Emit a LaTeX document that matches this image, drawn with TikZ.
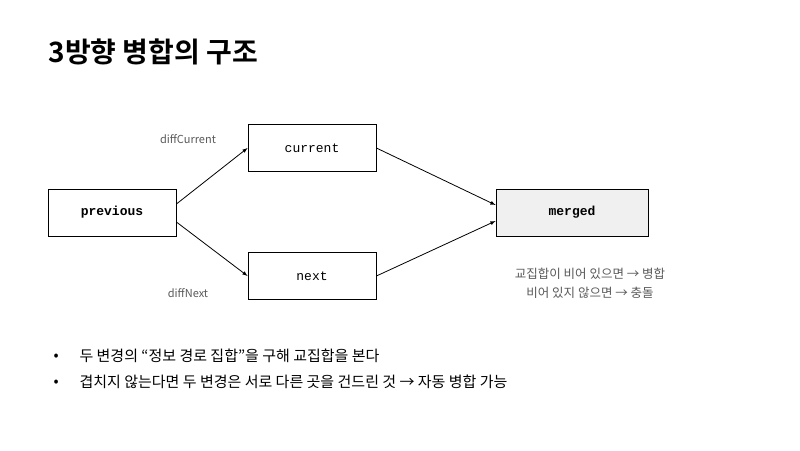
\documentclass[tikz,border=0pt]{standalone}
\usepackage{fontspec}
\setmainfont{Noto Sans CJK KR}
\newfontfamily\codefont{Liberation Mono}
\newfontfamily\titlefont{Noto Sans CJK KR Bold}
\begin{document}
\begin{tikzpicture}[x=1pt,y=-1pt,
  box/.style={draw,line width=0.8pt,minimum width=128pt,minimum height=47pt,inner sep=0pt,font=\codefont\fontsize{13}{15}\selectfont},
  arr/.style={-latex,line width=0.8pt},
  lab/.style={font=\fontsize{11}{13}\selectfont,text=black!65},
  bul/.style={anchor=west,font=\fontsize{15}{18}\selectfont}]
\useasboundingbox (0,0) rectangle (800,450);
\node[anchor=west,font=\titlefont\fontsize{28}{32}\selectfont] (t) at (45,52) {3방향 병합의 구조};
\node[box] (p) at (112,212.5) {\textbf{previous}};
\node[box] (c) at (312,148) {current};
\node[box] (n) at (312,276) {next};
\node[box,minimum width=152pt,fill=black!6] (m) at (572,212.5) {\textbf{merged}};
\draw[arr] (p.east |- 0,204) -- (c.west |- 0,148);
\draw[arr] (p.east |- 0,222) -- (n.west |- 0,276);
\draw[arr] (c.east |- 0,148) -- (m.west |- 0,205);
\draw[arr] (n.east |- 0,276) -- (m.west |- 0,221);
\node[lab] (lc) at (188,139) {diffCurrent};
\node[lab] (ln) at (188,293) {diffNext};
\node[lab,align=center,font=\fontsize{12.5}{19}\selectfont] (note) at (590,283) {교집합이 비어 있으면 → 병합\\비어 있지 않으면 → 충돌};
\node[bul] (d1) at (50,357) {•};
\node[bul] (b1) at (76,356) {두 변경의 “정보 경로 집합”을 구해 교집합을 본다};
\node[bul] (d2) at (50,383) {•};
\node[bul] (b2) at (76,382) {겹치지 않는다면 두 변경은 서로 다른 곳을 건드린 것 → 자동 병합 가능};
\end{tikzpicture}
\end{document}
